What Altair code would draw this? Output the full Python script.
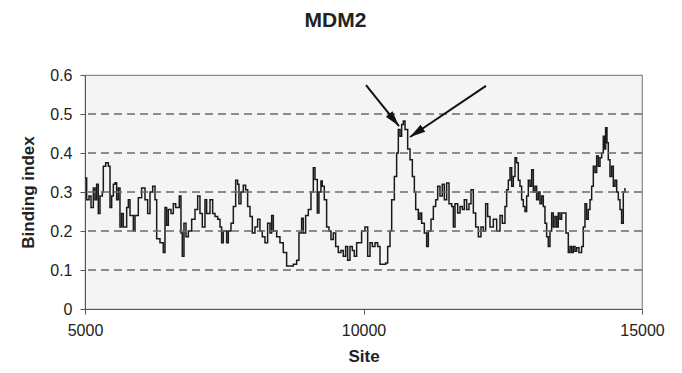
import altair as alt
import pandas as pd

sites = [
    5000, 5030, 5072, 5108, 5150, 5180, 5209, 5239, 5269, 5311, 5329, 5371, 5419, 5449, 5479, 5509,
    5539, 5568, 5598, 5628, 5658, 5688, 5748, 5778, 5808, 5868, 5898, 5957, 6017, 6077, 6125, 6167,
    6215, 6257, 6287, 6346, 6406, 6436, 6466, 6496, 6544, 6586, 6628, 6693, 6723, 6747, 6777, 6813,
    6855, 6915, 6975, 7023, 7064, 7106, 7154, 7184, 7244, 7292, 7334, 7382, 7424, 7453, 7483, 7513,
    7543, 7573, 7621, 7663, 7705, 7740, 7764, 7800, 7842, 7884, 7920, 7962, 8004, 8052, 8099, 8141,
    8183, 8231, 8279, 8321, 8351, 8381, 8441, 8500, 8560, 8620, 8680, 8740, 8800, 8841, 8889, 8919,
    8961, 9009, 9057, 9099, 9129, 9171, 9200, 9236, 9260, 9296, 9338, 9380, 9416, 9458, 9500, 9548,
    9595, 9637, 9679, 9715, 9757, 9799, 9835, 9877, 9919, 9966, 10026,
    10075, 10117, 10159, 10207, 10254, 10296, 10356, 10398, 10434, 10476, 10506, 10554, 10595, 10625,
    10655, 10685, 10715, 10745, 10793, 10835, 10877, 10913, 10937, 10984, 11014, 11044, 11092, 11134,
    11164, 11212, 11254, 11296, 11332, 11373, 11415, 11451, 11493, 11535, 11583, 11613, 11643, 11691,
    11733, 11774, 11810, 11852, 11894, 11930, 11972, 12014, 12062, 12109, 12151, 12193, 12229, 12271,
    12331, 12391, 12451, 12492, 12540,
    12570, 12600, 12630, 12660, 12690, 12720, 12749, 12779, 12809, 12839, 12869, 12899, 12929, 12959,
    12989, 13019, 13049, 13079, 13108, 13138, 13168, 13198, 13228, 13258, 13288, 13318, 13348, 13378,
    13408, 13438, 13468, 13497, 13527, 13557, 13605, 13635, 13677, 13707, 13737, 13767, 13797, 13827,
    13868, 13916, 13946, 13976, 14006, 14036, 14066, 14096, 14126, 14156, 14186, 14216, 14246, 14276,
    14305, 14323, 14347, 14371, 14395, 14425, 14455, 14485, 14515, 14545, 14575, 14605, 14634, 14664,
    14694,
]

binding = [
    0.336, 0.28, 0.29, 0.26, 0.31, 0.28, 0.32, 0.245, 0.29, 0.30, 0.366, 0.375, 0.366, 0.26, 0.29, 0.32,
    0.324, 0.28, 0.31, 0.21, 0.245, 0.21, 0.26, 0.28, 0.24, 0.20, 0.24, 0.285, 0.31, 0.28, 0.245, 0.30,
    0.315, 0.28, 0.18, 0.17, 0.145, 0.26, 0.215, 0.255, 0.245, 0.27, 0.26, 0.29, 0.195, 0.135, 0.22, 0.185,
    0.20, 0.23, 0.255, 0.29, 0.245, 0.21, 0.28, 0.245, 0.28, 0.245, 0.237, 0.23, 0.21, 0.17, 0.20, 0.20,
    0.17, 0.20, 0.22, 0.263, 0.33, 0.32, 0.27, 0.30, 0.317, 0.306, 0.263, 0.237, 0.195, 0.21, 0.23, 0.20,
    0.185, 0.17, 0.22, 0.195, 0.24, 0.20, 0.185, 0.17, 0.145, 0.11, 0.11, 0.115, 0.125, 0.195, 0.233, 0.195,
    0.24, 0.255, 0.30, 0.362, 0.332, 0.246, 0.30, 0.328, 0.315, 0.28, 0.21, 0.20, 0.178, 0.195, 0.16, 0.145,
    0.15, 0.135, 0.16, 0.125, 0.16, 0.15, 0.135, 0.17, 0.17, 0.20, 0.21,
    0.135, 0.17, 0.16, 0.17, 0.16, 0.115, 0.115, 0.118, 0.16, 0.20, 0.28, 0.34, 0.40, 0.46,
    0.443, 0.473, 0.482, 0.46, 0.41, 0.383, 0.34, 0.30, 0.255, 0.23, 0.246, 0.22, 0.195, 0.16,
    0.20, 0.23, 0.263, 0.28, 0.315, 0.29, 0.32, 0.28, 0.323, 0.27, 0.263, 0.21, 0.27, 0.246,
    0.263, 0.255, 0.28, 0.255, 0.27, 0.306, 0.246, 0.21, 0.185, 0.21, 0.20, 0.27, 0.237, 0.21,
    0.23, 0.20, 0.24, 0.22, 0.263,
    0.306, 0.33, 0.362, 0.315, 0.34, 0.388, 0.375, 0.33, 0.315, 0.28, 0.263, 0.25, 0.29, 0.33,
    0.315, 0.357, 0.30, 0.315, 0.28, 0.30, 0.27, 0.29, 0.263, 0.22, 0.185, 0.16, 0.20, 0.246,
    0.21, 0.237, 0.21, 0.246, 0.23, 0.246, 0.246, 0.195, 0.145, 0.16, 0.145, 0.16, 0.148, 0.157,
    0.145, 0.16, 0.21, 0.27, 0.23, 0.255, 0.28, 0.315, 0.366, 0.35, 0.392, 0.366, 0.388, 0.40,
    0.443, 0.41, 0.465, 0.426, 0.383, 0.34, 0.366, 0.315, 0.33, 0.30, 0.28, 0.255, 0.22, 0.30,
    0.31,
]

y_ticks = [0, 0.1, 0.2, 0.3, 0.4, 0.5, 0.6]
x_ticks = [5000, 10000, 15000]
grid_values = [0.1, 0.2, 0.3, 0.4, 0.5]

arrow_start_site = [10045, 12199]
arrow_start_val = [0.574, 0.572]
arrow_tip_site = [10637, 10835]
arrow_tip_val = [0.469, 0.441]
arrow_angle = [141, 236]

df = pd.DataFrame({"site": sites, "binding": binding})
grid_df = pd.DataFrame({"g": grid_values})
arrows_df = pd.DataFrame({
    "x1": arrow_start_site, "y1": arrow_start_val,
    "x2": arrow_tip_site, "y2": arrow_tip_val, "angle": arrow_angle,
})

xscale = alt.Scale(domain=[5000, 15000], nice=False, zero=False)
yscale = alt.Scale(domain=[0, 0.6], nice=False)

FONT = "Liberation Sans"

xaxis = alt.Axis(
    title="Site", values=x_ticks, format="d", grid=False,
    labelFlush=False, labelOverlap=False, labelBound=False,
    labelFontSize=16, labelPadding=8, tickSize=5, titleFontSize=17, titleFontWeight="bold",
    titlePadding=10, domainColor="#555", tickColor="#555", labelColor="#222", titleColor="#222",
)
yaxis = alt.Axis(
    title="Binding index", values=y_ticks, grid=False,
    labelExpr="datum.value == 0 ? '0' : format(datum.value, '.1f')",
    labelFlush=False, labelOverlap=False, labelBound=False,
    labelFontSize=16, labelPadding=8, tickSize=5, titleFontSize=17, titleFontWeight="bold",
    titlePadding=12, domainColor="#555", tickColor="#555", labelColor="#222", titleColor="#222",
)

grid = alt.Chart(grid_df).mark_rule(
    color="#6a6a6a", strokeDash=[8, 5], strokeWidth=1.4
).encode(y=alt.Y("g:Q", scale=yscale, axis=yaxis))

line = alt.Chart(df).mark_line(
    color="#1a1a1a", strokeWidth=1.5, interpolate="step-after"
).encode(
    x=alt.X("site:Q", scale=xscale, axis=xaxis),
    y=alt.Y("binding:Q", scale=yscale, axis=yaxis),
)

arrow_lines = alt.Chart(arrows_df).mark_rule(color="#111", strokeWidth=2).encode(
    x=alt.X("x1:Q", scale=xscale, axis=xaxis), y=alt.Y("y1:Q", scale=yscale, axis=yaxis),
    x2="x2:Q", y2="y2:Q",
)

arrow_heads = alt.Chart(arrows_df).mark_point(
    shape="M0,0 L0.6,2.2 L-0.6,2.2 Z", filled=True, color="#111", size=200, opacity=1
).encode(
    x=alt.X("x2:Q", scale=xscale, axis=xaxis), y=alt.Y("y2:Q", scale=yscale, axis=yaxis),
    angle=alt.Angle("angle:Q", scale=None),
)

chart = alt.layer(line, grid, arrow_lines, arrow_heads).properties(
    width=557, height=234,
    title=alt.TitleParams("MDM2", fontSize=21, fontWeight="bold", font=FONT, color="#222",
                          offset=36, dx=-28),
    autosize=alt.AutoSizeParams(type="none"),
    padding={"left": 77, "top": 67, "right": 32, "bottom": 64},
).configure(font=FONT, background="white").configure_view(
    fill="#f4f4f4", stroke="#8a8a8a", strokeWidth=1.2
).configure_axis(labelFont=FONT, titleFont=FONT, labelOverlap=False)

chart.save("out.html", embed_options={"renderer": "svg", "actions": False})
